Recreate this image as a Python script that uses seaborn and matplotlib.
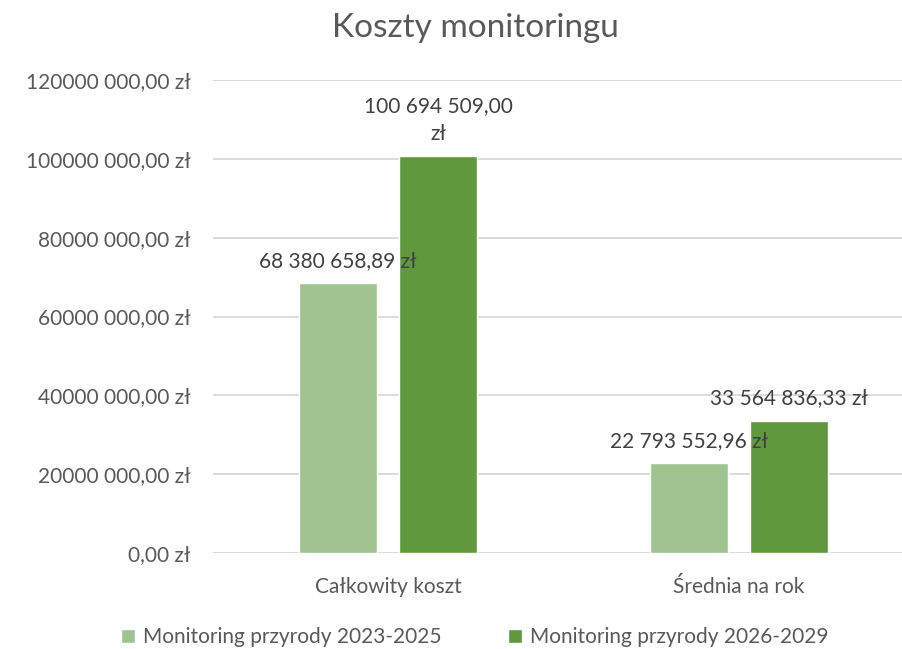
import pandas as pd
import matplotlib.pyplot as plt
import seaborn as sns

# data
categories = ['Całkowity koszt', 'Średnia na rok']
series_names = ['Monitoring przyrody 2023-2025', 'Monitoring przyrody 2026-2029']
values_2023 = [68380658.89, 22793552.96]
values_2026 = [100694509.00, 33564836.33]
labels_2023 = ['68 380 658,89 zł', '22 793 552,96 zł']
labels_2026 = ['100 694 509,00\nzł', '33 564 836,33 zł']
y_ticks = [0, 20e6, 40e6, 60e6, 80e6, 100e6, 120e6]
y_tick_labels = ['0,00 zł', '20000 000,00 zł', '40000 000,00 zł', '60000 000,00 zł',
                 '80000 000,00 zł', '100000 000,00 zł', '120000 000,00 zł']

df = pd.DataFrame({
    'kategoria': categories * 2,
    'seria': [series_names[0]] * 2 + [series_names[1]] * 2,
    'koszt': values_2023 + values_2026,
})

sns.set_style('white')
plt.rcParams['font.family'] = ['Lato', 'DejaVu Sans']

fig = plt.figure(figsize=(9.02, 6.49), dpi=100)
ax = fig.add_axes([0.2361, 0.1479, 0.7639, 0.7288])

sns.barplot(data=df, x='kategoria', y='koszt', hue='seria',
            palette=['#A0C490', '#60993D'], width=0.57, gap=0.22,
            saturation=1, ax=ax, legend=True)

ax.set_xlim(-0.4986, 1.464)
ax.set_ylim(0, 120e6)
ax.set_yticks(y_ticks)
ax.set_yticklabels(y_tick_labels, fontsize=15, color='#595959')
ax.tick_params(axis='y', length=0, pad=16)
ax.tick_params(axis='x', length=0, pad=17, labelsize=15, labelcolor='#595959')
ax.set_xlabel('')
ax.set_ylabel('')
ax.grid(axis='y', color='#D9D9D9', linewidth=1.3)
ax.set_axisbelow(True)
for s in ax.spines.values():
    s.set_visible(False)

for cont, labs in zip(ax.containers, [labels_2023, labels_2026]):
    ax.bar_label(cont, labels=labs, padding=9, fontsize=15, color='#404040',
                 linespacing=1.5)

handles, lbls = ax.get_legend_handles_labels()
ax.get_legend().remove()
fig.legend(handles, lbls, loc='center', bbox_to_anchor=(0.526, 0.018), ncol=2,
           frameon=False, fontsize=15, handlelength=0.7, handleheight=0.7,
           handletextpad=0.35, columnspacing=3.2, labelcolor='#595959')

fig.text(0.527, 0.957, 'Koszty monitoringu', ha='center', va='center',
         fontsize=24, color='#595959')

fig.savefig('out.png', dpi=100)
